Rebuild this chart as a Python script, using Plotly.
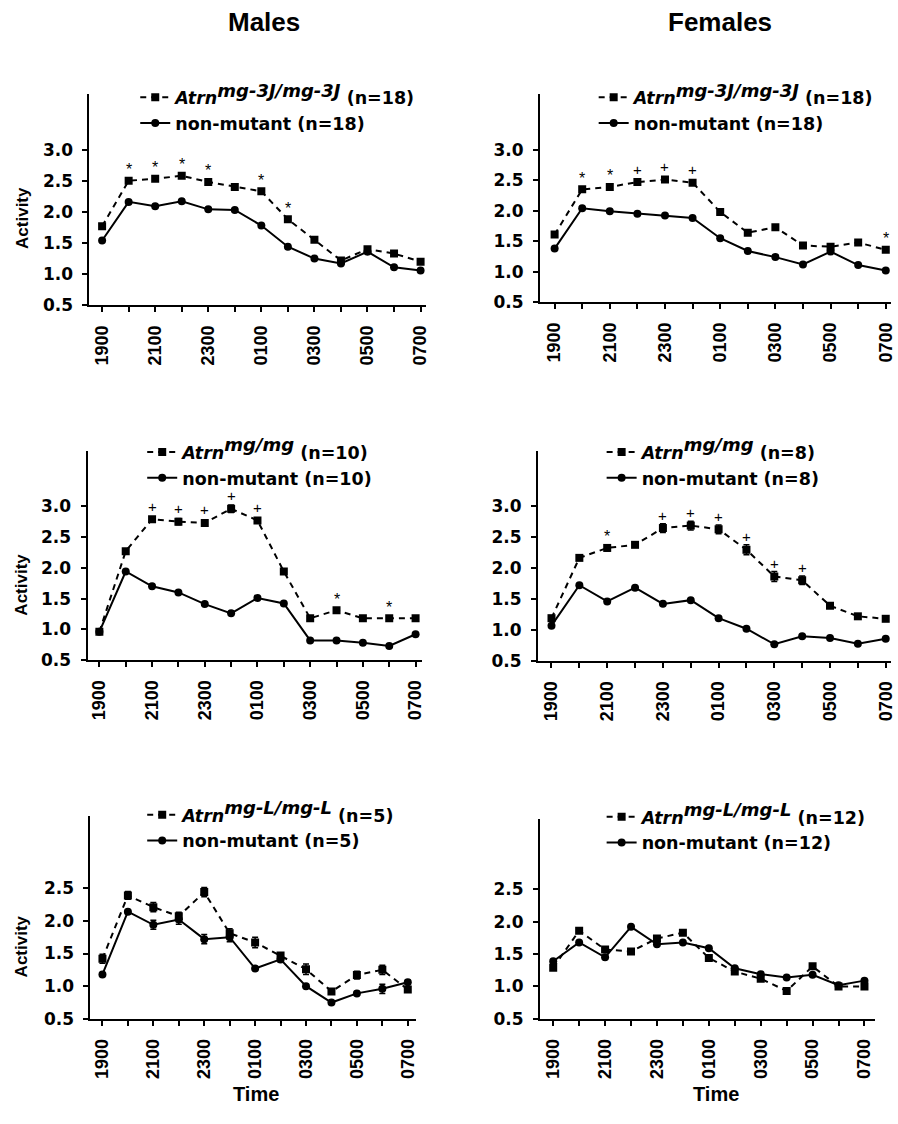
import plotly.graph_objects as go

# ---------------- data ----------------
hours = ["1900", "2000", "2100", "2200", "2300", "0000", "0100",
         "0200", "0300", "0400", "0500", "0600", "0700"]
tick_text = [h if i % 2 == 0 else "" for i, h in enumerate(hours)]

# Males, Atrn mg-3J
m_3j_mut = [1.77, 2.50, 2.53, 2.58, 2.48, 2.40, 2.33, 1.88, 1.55, 1.22, 1.40, 1.33, 1.20]
m_3j_wt = [1.54, 2.16, 2.09, 2.17, 2.04, 2.03, 1.78, 1.44, 1.25, 1.17, 1.36, 1.11, 1.06]
m_3j_sig = ["", "*", "*", "*", "*", "", "*", "*", "", "", "", "", ""]

# Females, Atrn mg-3J
f_3j_mut = [1.61, 2.35, 2.39, 2.47, 2.51, 2.46, 1.98, 1.64, 1.73, 1.43, 1.41, 1.48, 1.36]
f_3j_wt = [1.38, 2.04, 1.99, 1.95, 1.92, 1.88, 1.55, 1.34, 1.24, 1.12, 1.33, 1.11, 1.02]
f_3j_sig = ["", "*", "*", "+", "+", "+", "", "", "", "", "", "", "*"]

# Males, Atrn mg/mg
m_mg_mut = [0.96, 2.27, 2.79, 2.75, 2.73, 2.96, 2.77, 1.94, 1.18, 1.31, 1.18, 1.18, 1.18]
m_mg_mut_err = [0.02, 0.02, 0.03, 0.05, 0.05, 0.06, 0.03, 0.02, 0.02, 0.02, 0.02, 0.02, 0.02]
m_mg_wt = [0.96, 1.94, 1.70, 1.60, 1.41, 1.26, 1.51, 1.42, 0.82, 0.82, 0.78, 0.73, 0.92]
m_mg_sig = ["", "", "+", "+", "+", "+", "+", "", "", "*", "", "*", ""]

# Females, Atrn mg/mg
f_mg_mut = [1.19, 2.16, 2.32, 2.37, 2.64, 2.68, 2.62, 2.29, 1.86, 1.80, 1.39, 1.22, 1.18]
f_mg_mut_err = [0.02, 0.02, 0.05, 0.02, 0.07, 0.07, 0.07, 0.08, 0.08, 0.07, 0.03, 0.02, 0.02]
f_mg_wt = [1.07, 1.72, 1.46, 1.68, 1.42, 1.48, 1.19, 1.02, 0.77, 0.90, 0.87, 0.78, 0.86]
f_mg_sig = ["", "", "*", "", "+", "+", "+", "+", "+", "+", "", "", ""]

# Males, Atrn mg-L
m_l_mut = [1.42, 2.39, 2.21, 2.07, 2.44, 1.81, 1.67, 1.47, 1.26, 0.92, 1.17, 1.25, 0.95]
m_l_mut_err = [0.07, 0.06, 0.07, 0.06, 0.07, 0.07, 0.08, 0.04, 0.08, 0.03, 0.06, 0.07, 0.03]
m_l_wt = [1.18, 2.14, 1.94, 2.02, 1.72, 1.75, 1.27, 1.41, 1.00, 0.75, 0.89, 0.96, 1.06]
m_l_wt_err = [0.02, 0.03, 0.07, 0.07, 0.07, 0.07, 0.02, 0.04, 0.02, 0.02, 0.03, 0.07, 0.03]

# Females, Atrn mg-L
f_l_mut = [1.29, 1.86, 1.57, 1.54, 1.74, 1.83, 1.44, 1.23, 1.12, 0.93, 1.31, 1.00, 1.00]
f_l_wt = [1.39, 1.68, 1.45, 1.92, 1.65, 1.68, 1.59, 1.28, 1.19, 1.14, 1.18, 1.02, 1.09]

SUP = '<sup><span style="font-size:18px">{}</span></sup>'
panel_names = [
    ("<i>Atrn" + SUP.format("mg-3J/mg-3J") + "</i> (n=18)", "non-mutant (n=18)"),
    ("<i>Atrn" + SUP.format("mg-3J/mg-3J") + "</i> (n=18)", "non-mutant (n=18)"),
    ("<i>Atrn" + SUP.format("mg/mg") + "</i> (n=10)", "non-mutant (n=10)"),
    ("<i>Atrn" + SUP.format("mg/mg") + "</i> (n=8)", "non-mutant (n=8)"),
    ("<i>Atrn" + SUP.format("mg-L/mg-L") + "</i> (n=5)", "non-mutant (n=5)"),
    ("<i>Atrn" + SUP.format("mg-L/mg-L") + "</i> (n=12)", "non-mutant (n=12)"),
]
panel_data = [
    (m_3j_mut, None, m_3j_wt, None, m_3j_sig),
    (f_3j_mut, None, f_3j_wt, None, f_3j_sig),
    (m_mg_mut, m_mg_mut_err, m_mg_wt, None, m_mg_sig),
    (f_mg_mut, f_mg_mut_err, f_mg_wt, None, f_mg_sig),
    (m_l_mut, m_l_mut_err, m_l_wt, m_l_wt_err, None),
    (f_l_mut, None, f_l_wt, None, None),
]

# ---------------- layout geometry (pixels) ----------------
W, H = 898, 1124
geom = [
    ((90, 428), (-0.475, 12.19), (95, 308), 3.89, [0.5, 1.0, 1.5, 2.0, 2.5, 3.0]),
    ((543, 896), (-0.53, 12.19), (95, 305), 3.91, [0.5, 1.0, 1.5, 2.0, 2.5, 3.0]),
    ((88, 424), (-0.45, 12.23), (455, 666), 3.90, [0.5, 1.0, 1.5, 2.0, 2.5, 3.0]),
    ((541, 896), (-0.485, 12.19), (455, 667), 3.88, [0.5, 1.0, 1.5, 2.0, 2.5, 3.0]),
    ((91, 418), (-0.47, 12.31), (823, 1028), 3.61, [0.5, 1.0, 1.5, 2.0, 2.5]),
    ((543, 880), (-0.51, 12.41), (826, 1028), 3.59, [0.5, 1.0, 1.5, 2.0, 2.5]),
]
legend_pos = [(136, 80), (597, 80), (143, 438), (605, 438), (143, 804), (605, 806)]

TICK_FONT_Y = dict(family="DejaVu Sans", size=17, color="black", weight="bold")
TICK_FONT_X = dict(family="Liberation Sans, Arial", size=18, color="black", weight="bold")
LEG_FONT = dict(family="DejaVu Sans", size=17.5, color="black", weight="bold")
LABEL_FAMILY = "Liberation Sans, Arial"

fig = go.Figure()
annotations = []
x_idx = list(range(len(hours)))

for p in range(6):
    mut, mut_err, wt, wt_err, sig = panel_data[p]
    (xp0, xp1), xr, (yp0, yp1), ytop, yticks = geom[p]
    sfx = "" if p == 0 else str(p + 1)
    xa, ya = "x" + sfx, "y" + sfx
    leg = "legend" + sfx

    fig.add_trace(go.Scatter(
        x=x_idx, y=mut, mode="lines+markers", name=panel_names[p][0],
        line=dict(color="black", width=2, dash="6px,5px"),
        marker=dict(symbol="square", size=8, color="black"),
        error_y=(dict(type="data", array=mut_err, visible=True, color="black",
                      thickness=1.5, width=3) if mut_err else None),
        xaxis=xa, yaxis=ya, legend=leg))
    fig.add_trace(go.Scatter(
        x=x_idx, y=wt, mode="lines+markers", name=panel_names[p][1],
        line=dict(color="black", width=2),
        marker=dict(symbol="circle", size=8, color="black"),
        error_y=(dict(type="data", array=wt_err, visible=True, color="black",
                      thickness=1.5, width=3) if wt_err else None),
        xaxis=xa, yaxis=ya, legend=leg))

    axis_common = dict(showline=True, linecolor="black", linewidth=2,
                       ticks="outside", ticklen=5, tickwidth=1.5, tickcolor="black",
                       showgrid=False, zeroline=False)
    fig.update_layout(**{
        ("xaxis" + sfx): dict(
            domain=[xp0 / W, xp1 / W], range=list(xr), anchor=ya,
            tickmode="array", tickvals=x_idx, ticktext=tick_text,
            tickangle=-90, tickfont=TICK_FONT_X, ticklabelstandoff=6, **axis_common),
        ("yaxis" + sfx): dict(
            domain=[1 - yp1 / H, 1 - yp0 / H], range=[0.5, ytop], anchor=xa,
            tickmode="array", tickvals=yticks,
            ticktext=[f"{v:.1f}" for v in yticks],
            tickfont=TICK_FONT_Y, ticklabelstandoff=6, **axis_common),
        leg: dict(x=legend_pos[p][0] / W, y=1 - legend_pos[p][1] / H,
                  xanchor="left", yanchor="top", bgcolor="rgba(0,0,0,0)",
                  font=LEG_FONT, itemwidth=30, tracegroupgap=0),
    })

    if sig:
        for i, s in enumerate(sig):
            if not s:
                continue
            annotations.append(dict(
                x=i, y=mut[i], xref=xa, yref=ya, text=s, showarrow=False,
                yshift=13 if s == "+" else 11, xanchor="center", yanchor="middle",
                font=dict(family=LABEL_FAMILY, size=16 if s == "*" else 15,
                          color="black")))

# column titles, axis titles
for txt, xc in (("Males", 265), ("Females", 724)):
    annotations.append(dict(x=xc / W, y=1 - 22 / H, xref="paper", yref="paper",
                            text="<b>" + txt + "</b>", showarrow=False,
                            xanchor="center", yanchor="middle",
                            font=dict(family=LABEL_FAMILY, size=26, color="black")))
for xc in (257, 720):
    annotations.append(dict(x=xc / W, y=1 - 1104 / H, xref="paper", yref="paper",
                            text="<b>Time</b>", showarrow=False,
                            xanchor="center", yanchor="middle",
                            font=dict(family=LABEL_FAMILY, size=20, color="black")))
for yc in (220, 590, 955):
    annotations.append(dict(x=22 / W, y=1 - yc / H, xref="paper", yref="paper",
                            text="<b>Activity</b>", showarrow=False, textangle=-90,
                            xanchor="center", yanchor="middle",
                            font=dict(family=LABEL_FAMILY, size=17, color="black")))

fig.update_layout(
    width=W, height=H, margin=dict(l=0, r=0, t=0, b=0),
    paper_bgcolor="white", plot_bgcolor="white",
    annotations=annotations, showlegend=True,
)

fig.write_html("out.html",
               config={"displayModeBar": False},
               post_script="document.body.style.margin='0';"
                           "document.body.style.overflow='hidden';")
